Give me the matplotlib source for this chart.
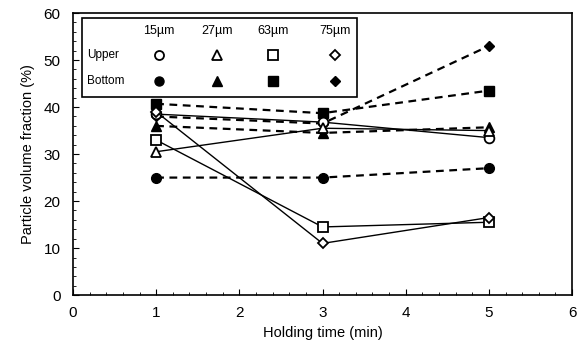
import matplotlib.pyplot as plt
from matplotlib.patches import Rectangle
from matplotlib.ticker import MultipleLocator

plt.rcParams["font.family"] = ["Liberation Sans", "DejaVu Sans"]

# holding time (min)
times = [1, 3, 5]
sizes = ["15\u00b5m", "27\u00b5m", "63\u00b5m", "75\u00b5m"]
markers = ["o", "^", "s", "D"]

# particle volume fraction (%)
upper = [
    [38.5, 36.8, 33.5],
    [30.5, 35.5, 35.0],
    [33.0, 14.5, 15.5],
    [39.0, 11.0, 16.5],
]
bottom = [
    [25.0, 25.0, 27.0],
    [36.0, 34.5, 35.7],
    [40.7, 38.7, 43.5],
    [38.0, 36.5, 53.0],
]

fig = plt.figure(figsize=(5.79, 3.53), dpi=100)
ax = fig.add_axes([0.126, 0.164, 0.862, 0.799])

msize = {"o": 7, "^": 7, "s": 7, "D": 5.5}

for vals, m in zip(bottom, markers):
    ax.plot(times, vals, "--", color="black", lw=1.6, dashes=(3.5, 2.5),
            marker=m, ms=msize[m], mfc="black", mec="black", zorder=2)
for vals, m in zip(upper, markers):
    ax.plot(times, vals, "-", color="black", lw=1.0,
            marker=m, ms=msize[m], mfc="white", mec="black", mew=1.3, zorder=3)

ax.set_xlim(0, 6)
ax.set_ylim(0, 60)
ax.xaxis.set_major_locator(MultipleLocator(1))
ax.xaxis.set_minor_locator(MultipleLocator(0.2))
ax.yaxis.set_major_locator(MultipleLocator(10))
ax.yaxis.set_minor_locator(MultipleLocator(2))
ax.tick_params(which="both", direction="in", labelsize=11, top=False, right=False)
ax.tick_params(which="major", length=4)
ax.tick_params(axis="x", which="major", pad=8)
ax.tick_params(axis="y", which="major", pad=9)
ax.tick_params(which="minor", length=2.5)
for s in ax.spines.values():
    s.set_linewidth(1.2)

ax.set_xlabel("Holding time (min)", fontsize=10.5, labelpad=4)
ax.set_ylabel("Particle volume fraction (%)", fontsize=10.5, labelpad=6)

# custom table-like legend
ax.add_patch(Rectangle((0.018, 0.702), 0.551, 0.28, transform=ax.transAxes,
                       facecolor="white", edgecolor="black", lw=1.2, zorder=5))
col_x = [0.172, 0.289, 0.401, 0.525]
row_y = {"hdr": 0.935, "Upper": 0.85, "Bottom": 0.76}
ax.text(0.028, row_y["Upper"], "Upper", transform=ax.transAxes, fontsize=8.5,
        va="center", zorder=6)
ax.text(0.028, row_y["Bottom"], "Bottom", transform=ax.transAxes, fontsize=8.5,
        va="center", zorder=6)
for cx, lab, m in zip(col_x, sizes, markers):
    ax.text(cx, row_y["hdr"], lab, transform=ax.transAxes, fontsize=9,
            ha="center", va="center", zorder=6)
    ax.plot([cx], [row_y["Upper"]], marker=m, ms=msize[m] - 0.5, mfc="white",
            mec="black", mew=1.3, transform=ax.transAxes, zorder=6, ls="none")
    ax.plot([cx], [row_y["Bottom"]], marker=m, ms=msize[m] - 0.5, mfc="black",
            mec="black", transform=ax.transAxes, zorder=6, ls="none")

fig.savefig("out.png", dpi=100)
